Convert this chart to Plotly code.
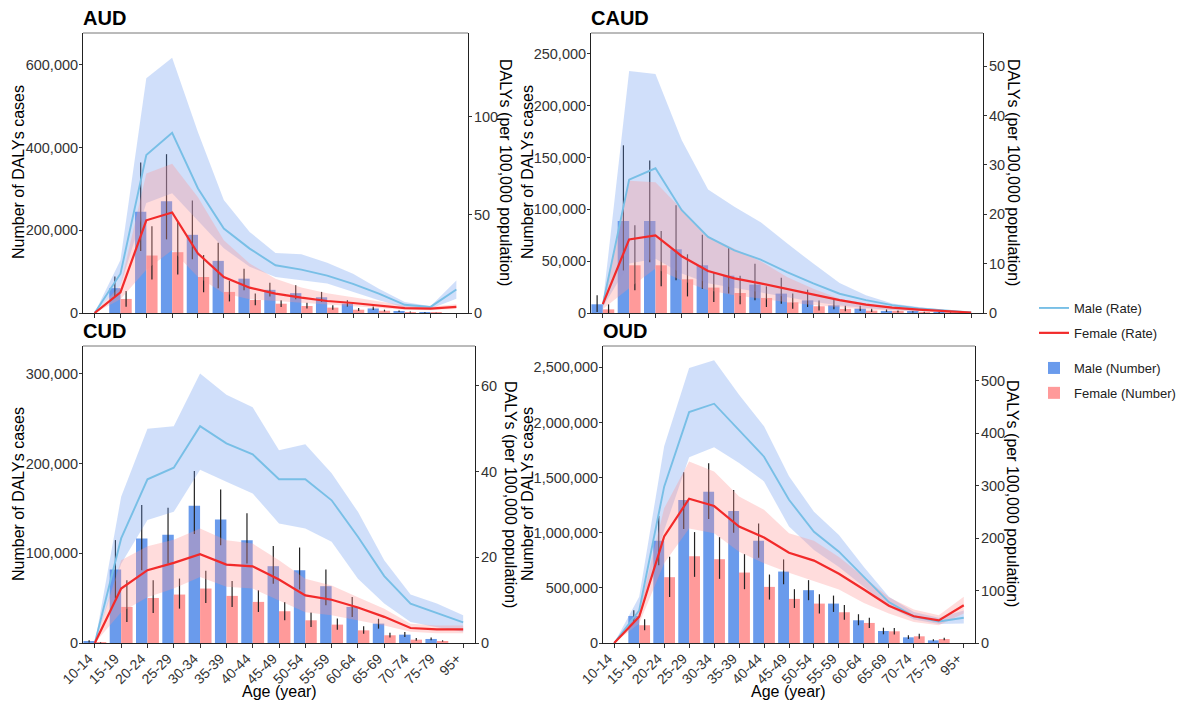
import plotly.graph_objects as go

# The page body has an 8px default margin; the figure is sized and laid out so that
# screen pixel coordinates of the 1188x705 window line up with the design below.
OFF = 8
W, H = 1188 - OFF, 705 - OFF

ages = ["10-14", "15-19", "20-24", "25-29", "30-34", "35-39", "40-44", "45-49",
        "50-54", "55-59", "60-64", "65-69", "70-74", "75-79", "95+"]

# ---------------- AUD ----------------
aud_male_num = [0, 60000, 245000, 270000, 189000, 126000, 83000, 56000, 48000, 38000, 22500, 11000, 4000, 1500, 0]
aud_male_lo = [0, 40000, 150000, 178000, 130000, 60000, 55000, 40000, 33000, 27000, 16000, 7000, 2500, 800, 0]
aud_male_hi = [0, 88000, 364000, 384000, 272000, 170000, 107000, 73000, 67000, 51000, 31000, 16000, 6000, 2500, 0]
aud_female_num = [0, 34000, 139000, 147000, 87000, 51000, 31500, 22500, 17000, 13000, 8000, 5500, 2400, 1000, 0]
aud_female_lo = [0, 15000, 81000, 93000, 50000, 28000, 18500, 14500, 11000, 8000, 5000, 3500, 1500, 600, 0]
aud_female_hi = [0, 53000, 210000, 220000, 140000, 78000, 47000, 31000, 25000, 19000, 12000, 8000, 3500, 1500, 0]
aud_male_rate = [0, 20, 80.5, 91.8, 63.4, 43, 32.8, 24.3, 22.1, 19, 14.8, 9.9, 4.2, 3.1, 12]
aud_male_rate_lo = [0, 14, 56, 61, 47, 33, 23.5, 18.3, 16.7, 15, 10.7, 6.5, 2.8, 2.2, 7.3]
aud_male_rate_hi = [0, 27, 119.5, 130, 92, 57.5, 41.3, 30.6, 29.9, 25.6, 20, 12.4, 5.6, 3.4, 16.5]
aud_female_rate = [0, 10.5, 47.2, 51.2, 30.3, 18.3, 12.9, 9.9, 7.8, 6.1, 5.1, 3.9, 2.5, 2.2, 3.1]
aud_female_rate_lo = [0, 7, 22, 32, 18.3, 10, 7, 6, 5, 4, 3.2, 2.5, 1.6, 1.4, 2]
aud_female_rate_hi = [0, 14, 71, 76, 59, 37, 25.2, 17.5, 13, 10, 8, 6, 3.8, 3.2, 4.5]

# ---------------- CAUD ----------------
caud_male_num = [8400, 88700, 88700, 61400, 46000, 36000, 27400, 18700, 12200, 7400, 4200, 2000, 1000, 500, 0]
caud_male_lo = [1000, 41000, 49000, 31500, 23500, 18700, 12200, 9000, 5800, 3500, 2000, 1000, 500, 200, 0]
caud_male_hi = [17000, 161700, 147000, 103800, 75500, 63600, 47600, 34000, 22500, 12900, 7000, 3500, 1800, 900, 0]
caud_female_num = [3500, 46000, 46000, 32500, 24500, 19300, 14500, 10300, 6500, 4000, 2300, 1300, 600, 300, 0]
caud_female_lo = [0, 21900, 25700, 16000, 10600, 8400, 5800, 4200, 2500, 1600, 900, 500, 250, 100, 0]
caud_female_hi = [8400, 84500, 79000, 56600, 39500, 36000, 25700, 18700, 12000, 7000, 4000, 2300, 1100, 600, 0]
caud_male_rate = [1.7, 27, 29.3, 20.8, 15.4, 12.7, 10.8, 8.3, 6.0, 3.9, 2.6, 1.6, 0.9, 0.5, 0.1]
caud_male_rate_lo = [1.2, 10, 11, 8, 6, 5, 4.2, 3.2, 2.3, 1.5, 1.0, 0.6, 0.35, 0.2, 0.05]
caud_male_rate_hi = [2.0, 49, 48.4, 35, 25, 21.5, 18.4, 14.1, 10, 6.1, 3.6, 1.9, 1.2, 0.7, 0.15]
caud_female_rate = [1.8, 14.9, 15.7, 11.5, 8.5, 7.0, 6.0, 4.9, 3.7, 2.6, 1.7, 1.1, 0.7, 0.4, 0.1]
caud_female_rate_lo = [0.8, 5, 9, 6.6, 4.6, 3.6, 2.9, 2.2, 1.6, 1.1, 0.7, 0.45, 0.3, 0.2, 0.05]
caud_female_rate_hi = [2.6, 26.8, 26.5, 21, 15.5, 13, 10.5, 7.3, 4.9, 2.9, 1.9, 1.2, 0.8, 0.5, 0.15]

# ---------------- CUD ----------------
cud_male_num = [1200, 82000, 116500, 120600, 153000, 137700, 114600, 85600, 81100, 63300, 40200, 21600, 9300, 4500, 0]
cud_male_lo = [500, 49600, 81000, 88600, 121400, 109000, 88600, 66000, 59600, 42000, 29000, 16000, 6700, 3000, 0]
cud_male_hi = [3000, 114700, 153700, 150700, 191700, 171200, 144500, 108000, 106400, 81900, 51400, 27000, 12300, 6000, 0]
cud_female_num = [300, 40200, 50200, 54000, 60700, 52500, 45800, 35400, 25300, 20500, 14100, 8600, 3700, 2200, 0]
cud_female_lo = [100, 23400, 33500, 38300, 44700, 40200, 34600, 25300, 17900, 14900, 10400, 6000, 2500, 1500, 0]
cud_female_hi = [800, 70000, 70000, 71800, 80400, 69200, 58800, 45800, 33900, 27200, 18600, 11500, 5600, 3000, 0]
cud_male_rate = [0, 24.4, 38.2, 40.9, 50.6, 46.6, 44.0, 38.2, 38.2, 33.3, 24.8, 15.6, 9.2, 7.0, 4.8]
cud_male_rate_lo = [0, 18.5, 28.7, 30.6, 40.4, 37.6, 34.9, 27.9, 26.7, 23.6, 15, 9.2, 4.9, 3.7, 2.6]
cud_male_rate_hi = [0, 34.1, 50, 50.6, 62.9, 57.9, 55, 45, 46.4, 39.6, 30.6, 19.3, 11.3, 9.2, 6.5]
cud_female_rate = [0, 12.7, 17, 18.7, 20.7, 18.3, 17.9, 14.8, 11.1, 10.1, 8.3, 6.1, 3.5, 3.2, 3.2]
cud_female_rate_lo = [0, 7.2, 10.7, 12.7, 15.4, 13.1, 12.7, 10, 7.2, 6.5, 5.3, 4.1, 2.6, 2.3, 2.3]
cud_female_rate_hi = [0, 19.3, 22.6, 24.1, 26.7, 24, 23.2, 19.3, 15, 13.4, 10.7, 8, 4.5, 4.1, 4.1]

# ---------------- OUD ----------------
oud_male_num = [0, 245000, 927000, 1297000, 1373000, 1197000, 927000, 648000, 479000, 357500, 206000, 109000, 51500, 24000, 0]
oud_male_lo = [0, 191000, 706000, 1033000, 1124000, 1000000, 773000, 533000, 388000, 282000, 161000, 79000, 36000, 15000, 0]
oud_male_hi = [0, 297000, 1151000, 1548000, 1630000, 1388000, 1085000, 758000, 570000, 430000, 261000, 139000, 70000, 33000, 0]
oud_female_num = [0, 161000, 597000, 788000, 760000, 639000, 509000, 400000, 357500, 279000, 182000, 106000, 60600, 36000, 0]
oud_female_lo = [0, 115000, 418000, 600000, 582000, 488000, 394000, 318000, 267000, 212000, 136000, 76000, 39000, 24000, 0]
oud_female_hi = [0, 215000, 782000, 1006000, 960000, 806000, 621000, 488000, 442000, 345000, 230000, 136000, 85000, 48000, 0]
oud_male_rate = [0, 62, 298, 440, 456, 406, 355, 273, 212, 174, 126, 78, 51, 41, 48]
oud_male_rate_lo = [0, 43, 215, 354, 373, 343, 308, 222, 177, 145, 107, 69, 45, 36, 37]
oud_male_rate_hi = [0, 88, 375, 524, 539, 473, 413, 318, 250, 206, 145, 88, 59, 48, 62]
oud_female_rate = [0, 50, 203, 275, 261, 222, 201, 172, 157, 132, 102, 71, 51, 43, 72]
oud_female_rate_lo = [0, 37, 152, 218, 209, 174, 152, 134, 118, 102, 76, 56, 40, 34, 56]
oud_female_rate_hi = [0, 62, 257, 346, 327, 279, 254, 209, 195, 164, 126, 87, 64, 53, 88]

panels = [
    dict(name="AUD", male=(aud_male_num, aud_male_lo, aud_male_hi), female=(aud_female_num, aud_female_lo, aud_female_hi),
         mrate=(aud_male_rate, aud_male_rate_lo, aud_male_rate_hi), frate=(aud_female_rate, aud_female_rate_lo, aud_female_rate_hi),
         px=(83, 468), py=(33, 313), yr=677000, dt=200000, y2r=142.6, dt2=50, bottom=False,
         ltx=18, rtx=506, tcy=172),
    dict(name="CAUD", male=(caud_male_num, caud_male_lo, caud_male_hi), female=(caud_female_num, caud_female_lo, caud_female_hi),
         mrate=(caud_male_rate, caud_male_rate_lo, caud_male_rate_hi), frate=(caud_female_rate, caud_female_rate_lo, caud_female_rate_hi),
         px=(591, 983), py=(33, 313), yr=270000, dt=50000, y2r=56.7, dt2=10, bottom=False,
         ltx=527, rtx=1014, tcy=172),
    dict(name="CUD", male=(cud_male_num, cud_male_lo, cud_male_hi), female=(cud_female_num, cud_female_lo, cud_female_hi),
         mrate=(cud_male_rate, cud_male_rate_lo, cud_male_rate_hi), frate=(cud_female_rate, cud_female_rate_lo, cud_female_rate_hi),
         px=(83, 475), py=(346, 643), yr=331000, dt=100000, y2r=69.3, dt2=20, bottom=True,
         ltx=18, rtx=511, tcy=494),
    dict(name="OUD", male=(oud_male_num, oud_male_lo, oud_male_hi), female=(oud_female_num, oud_female_lo, oud_female_hi),
         mrate=(oud_male_rate, oud_male_rate_lo, oud_male_rate_hi), frate=(oud_female_rate, oud_female_rate_lo, oud_female_rate_hi),
         px=(603, 975), py=(346, 643), yr=2694000, dt=500000, y2r=566, dt2=100, bottom=True,
         ltx=527, rtx=1013, tcy=494),
]

MALE_BAR = "#6A9BEC"
FEMALE_BAR = "#FF9A9A"
MALE_LINE = "#78BFE6"
FEMALE_LINE = "#F22A2A"
MALE_RIB = "rgba(100,149,237,0.30)"
FEMALE_RIB = "rgba(255,150,150,0.33)"
FONT = "Liberation Sans, Arial, sans-serif"
TXT = "#333333"

fig = go.Figure()
layout = {}
annotations = []
shapes = []


def fx(p):
    return (p - OFF) / W


def fy(p):
    return 1 - (p - OFF) / H


for i, p in enumerate(panels):
    k = 2 * i + 1
    xa = "x" if i == 0 else f"x{i + 1}"
    ya = "y" if k == 1 else f"y{k}"
    ya2 = f"y{k + 1}"
    first = i == 0

    mn, mlo, mhi = p["male"]
    fn, flo, fhi = p["female"]
    fig.add_trace(go.Bar(
        x=ages, y=mn, name="Male (Number)", marker_color=MALE_BAR, marker_line_width=0,
        offsetgroup="m", xaxis=xa, yaxis=ya, showlegend=first, legend="legend2",
        legendgroup="mn", legendrank=3,
        error_y=dict(type="data", symmetric=False,
                     array=[h - v for h, v in zip(mhi, mn)],
                     arrayminus=[v - l for v, l in zip(mn, mlo)],
                     color="#222222", thickness=1.2, width=0)))
    fig.add_trace(go.Bar(
        x=ages, y=fn, name="Female (Number)", marker_color=FEMALE_BAR, marker_line_width=0,
        offsetgroup="f", xaxis=xa, yaxis=ya, showlegend=first, legend="legend2",
        legendgroup="fn", legendrank=4,
        error_y=dict(type="data", symmetric=False,
                     array=[h - v for h, v in zip(fhi, fn)],
                     arrayminus=[v - l for v, l in zip(fn, flo)],
                     color="#222222", thickness=1.2, width=0)))

    mr, mrl, mrh = p["mrate"]
    fr, frl, frh = p["frate"]
    fig.add_trace(go.Scatter(
        x=ages + ages[::-1], y=mrh + mrl[::-1], fill="toself", fillcolor=MALE_RIB,
        line=dict(width=0), mode="lines", hoverinfo="skip", showlegend=False,
        xaxis=xa, yaxis=ya2))
    fig.add_trace(go.Scatter(
        x=ages + ages[::-1], y=frh + frl[::-1], fill="toself", fillcolor=FEMALE_RIB,
        line=dict(width=0), mode="lines", hoverinfo="skip", showlegend=False,
        xaxis=xa, yaxis=ya2))
    fig.add_trace(go.Scatter(
        x=ages, y=mr, mode="lines", name="Male (Rate)", line=dict(color=MALE_LINE, width=1.9),
        xaxis=xa, yaxis=ya2, showlegend=first, legend="legend", legendgroup="mr", legendrank=1))
    fig.add_trace(go.Scatter(
        x=ages, y=fr, mode="lines", name="Female (Rate)", line=dict(color=FEMALE_LINE, width=2.2),
        xaxis=xa, yaxis=ya2, showlegend=first, legend="legend", legendgroup="fr", legendrank=2))

    xkey = "xaxis" if i == 0 else f"xaxis{i + 1}"
    ykey = "yaxis" if k == 1 else f"yaxis{k}"
    y2key = f"yaxis{k + 1}"
    xdom = [fx(p["px"][0]), fx(p["px"][1])]
    ydom = [fy(p["py"][1]), fy(p["py"][0])]

    layout[xkey] = dict(
        domain=xdom, anchor=ya, type="category", categoryorder="array", categoryarray=ages,
        range=[-0.45, 14.45], showline=True, linecolor="#222222", linewidth=1,
        ticks="outside", ticklen=4, tickcolor="#333333", showgrid=False, zeroline=False,
        showticklabels=p["bottom"], tickangle=-45, automargin=False,
        ticklabelshift=-6, ticklabelstandoff=-3,
        tickfont=dict(family=FONT, size=14, color=TXT))
    layout[ykey] = dict(
        domain=ydom, anchor=xa, range=[0, p["yr"]], dtick=p["dt"], tick0=0,
        tickformat=",d", showline=True, linecolor="#222222", linewidth=1, automargin=False,
        ticks="outside", ticklen=3, tickcolor="#333333", showgrid=False, zeroline=False,
        ticklabelstandoff=-2,
        tickfont=dict(family=FONT, size=14.5, color=TXT))
    layout[y2key] = dict(
        overlaying=ya, anchor=xa, side="right", range=[0, p["y2r"]], dtick=p["dt2"], tick0=0,
        showline=True, linecolor="#222222", linewidth=1, automargin=False,
        ticks="outside", ticklen=3, tickcolor="#333333", showgrid=False, zeroline=False,
        ticklabelstandoff=-1,
        tickfont=dict(family=FONT, size=14.5, color=TXT))

    # top frame line
    shapes.append(dict(type="line", xref="paper", yref="paper",
                       x0=xdom[0], x1=xdom[1], y0=ydom[1], y1=ydom[1],
                       line=dict(color="#777777", width=1)))

    # panel title
    annotations.append(dict(text=f"<b>{p['name']}</b>", xref="paper", yref="paper",
                            x=fx(p["px"][0] - 2), y=fy(p["py"][0] - 15), xanchor="left", yanchor="middle",
                            showarrow=False, font=dict(family=FONT, size=20, color="black")))
    # left axis title
    annotations.append(dict(text="Number of DALYs cases", xref="paper", yref="paper",
                            x=fx(p["ltx"]), y=fy(p["tcy"]), xanchor="center", yanchor="middle",
                            textangle=-90, showarrow=False, font=dict(family=FONT, size=16, color="black")))
    # right axis title
    annotations.append(dict(text="DALYs (per 100,000 population)", xref="paper", yref="paper",
                            x=fx(p["rtx"]), y=fy(p["tcy"]), xanchor="center", yanchor="middle",
                            textangle=90, showarrow=False, font=dict(family=FONT, size=16, color="black")))
    if p["bottom"]:
        cx = (p["px"][0] + p["px"][1]) / 2
        annotations.append(dict(text="Age (year)", xref="paper", yref="paper",
                                x=fx(cx), y=fy(691), xanchor="center", yanchor="middle",
                                showarrow=False, font=dict(family=FONT, size=16, color="black")))

fig.update_layout(
    template="none",
    width=W, height=H, margin=dict(l=0, r=0, t=0, b=0, autoexpand=False),
    paper_bgcolor="white", plot_bgcolor="white",
    barmode="group", bargap=0.13, bargroupgap=0,
    font=dict(family=FONT, size=14, color=TXT),
    annotations=annotations, shapes=shapes,
    legend=dict(x=fx(1034), y=fy(293), xanchor="left", yanchor="top",
                bgcolor="rgba(0,0,0,0)", font=dict(family=FONT, size=13, color="#222222"),
                traceorder="grouped", tracegroupgap=5, itemwidth=30),
    legend2=dict(x=fx(1034), y=fy(353), xanchor="left", yanchor="top",
                 bgcolor="rgba(0,0,0,0)", font=dict(family=FONT, size=13, color="#222222"),
                 traceorder="grouped", tracegroupgap=5, itemwidth=30),
    **layout,
)

fig.write_html("out.html")
